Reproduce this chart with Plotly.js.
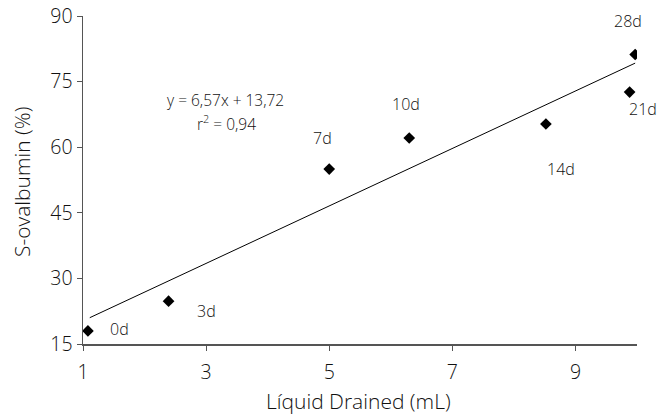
<!DOCTYPE html>
<html>
<head>
<meta charset="utf-8">
<script src="https://cdn.plot.ly/plotly-3.0.1.min.js"></script>
<style>html,body{margin:0;padding:0;background:#fff;}#chart{width:660px;height:416px;}</style>
</head>
<body>
<div id="chart"></div>
<script>
// Data
const dayLabels = ['0d', '3d', '7d', '10d', '14d', '21d', '28d'];
const liquidDrained = [1.08, 2.39, 5.0, 6.30, 8.52, 9.88, 9.97];
const sOvalbumin = [18.0, 24.8, 55.0, 62.1, 65.3, 72.6, 81.2];
const slope = 6.57;
const intercept = 13.72;
const equationLine1 = 'y = 6,57x + 13,72';
const equationLine2 = 'r<sup>2</sup> = 0,94';
const xTitle = 'Líquid Drained (mL)';
const yTitle = 'S-ovalbumin (%)';
const xTicks = [1, 3, 5, 7, 9];
const yTicks = [15, 30, 45, 60, 75, 90];

// label offsets (pixels) for the day annotations
const labelShift = [[32, 2], [38, -10], [-7, 31], [-3, 34], [15, -45], [13, -17], [-7, 33]];

const xMin = Math.min(...liquidDrained), xMax = Math.max(...liquidDrained);
const fitX = [xMin + 0.03, xMax];
const fitY = fitX.map(v => slope * v + intercept);

const font = 'Open Sans, Noto Sans, sans-serif';
const txt = '#111';
const L = 83, R = 23, T = 16, B = 72, W = 660, H = 416;
const px2paperX = p => (p - L) / (W - L - R);
const px2paperY = p => 1 - (p - T) / (H - T - B);

const traces = [
  {x: fitX, y: fitY, mode: 'lines', type: 'scatter', line: {color: '#000', width: 1}, hoverinfo: 'skip'},
  {x: liquidDrained, y: sOvalbumin, mode: 'markers', type: 'scatter',
   marker: {symbol: 'diamond', size: 9, color: '#000'}}
];

const annotations = dayLabels.map((t, i) => ({
  x: liquidDrained[i], y: sOvalbumin[i], xref: 'x', yref: 'y', text: t, showarrow: false,
  xshift: labelShift[i][0], yshift: labelShift[i][1], font: {family: font, size: 16, color: txt, weight: 300}
}));
const paperText = (text, px, py, size, angle) => ({
  x: px2paperX(px), y: px2paperY(py), xref: 'paper', yref: 'paper', text: text, showarrow: false,
  xanchor: 'center', yanchor: 'middle', textangle: angle || 0,
  font: {family: font, size: size, color: txt, weight: 300}
});
annotations.push(paperText(equationLine1, 225, 100, 15.5));
annotations.push(paperText(equationLine2, 226, 123, 15.5));
annotations.push(paperText(xTitle, 358, 401, 21));
annotations.push(paperText(yTitle, 22, 182, 21, -90));

const layout = {
  width: W, height: H,
  margin: {l: L, r: R, t: T, b: B},
  paper_bgcolor: '#fff', plot_bgcolor: '#fff',
  showlegend: false,
  font: {family: font, color: txt},
  xaxis: {
    range: [1, 10], tickvals: xTicks, ticktext: xTicks.map(String),
    showgrid: false, zeroline: false, showline: true, linecolor: '#555', linewidth: 1.5,
    ticks: 'outside', ticklen: 5, tickcolor: '#555', tickwidth: 1, ticklabelstandoff: 5,
    tickfont: {family: font, size: 19.5, color: txt, weight: 300}
  },
  yaxis: {
    range: [15, 90], tickvals: yTicks, ticktext: yTicks.map(String),
    showgrid: false, zeroline: false, showline: true, linecolor: '#555', linewidth: 1.5,
    ticks: 'outside', ticklen: 5, tickcolor: '#555', tickwidth: 1,
    tickfont: {family: font, size: 19.5, color: txt, weight: 300}
  },
  annotations: annotations
};

Plotly.newPlot('chart', traces, layout, {displayModeBar: false, staticPlot: true});
</script>
</body>
</html>
